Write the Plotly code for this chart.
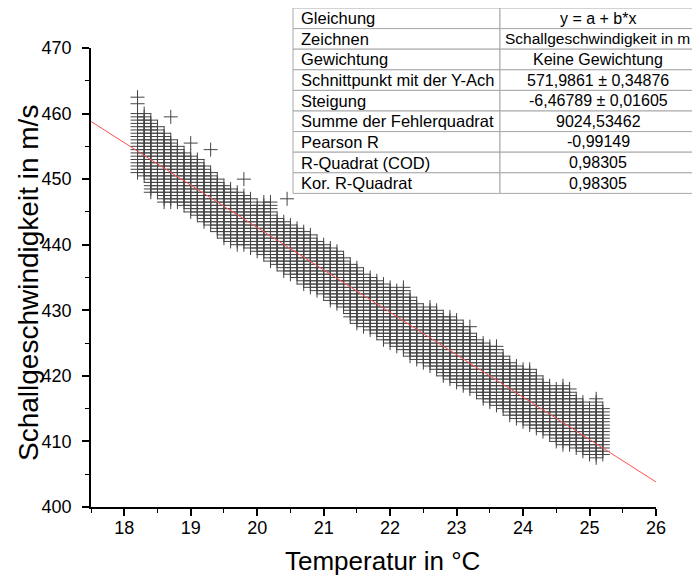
import plotly.graph_objects as go

# ---- data ----
temps = [18.2, 18.3, 18.4, 18.5, 18.6, 18.7, 18.8, 18.9, 19.0, 19.1,
         19.2, 19.3, 19.4, 19.5, 19.6, 19.7, 19.8, 19.9, 20.0, 20.1,
         20.2, 20.3, 20.4, 20.5, 20.6, 20.7, 20.8, 20.9, 21.0, 21.1,
         21.2, 21.3, 21.4, 21.5, 21.6, 21.7, 21.8, 21.9, 22.0, 22.1,
         22.2, 22.3, 22.4, 22.5, 22.6, 22.7, 22.8, 22.9, 23.0, 23.1,
         23.2, 23.3, 23.4, 23.5, 23.6, 23.7, 23.8, 23.9, 24.0, 24.1,
         24.2, 24.3, 24.4, 24.5, 24.6, 24.7, 24.8, 24.9, 25.0, 25.1,
         25.2]
# highest and lowest marker row of each temperature column (m/s)
speed_hi = [460.0, 460.0, 459.0, 458.0, 457.0, 456.0, 455.0, 454.0, 453.5, 453.0,
            452.0, 451.0, 450.0, 449.0, 448.5, 448.0, 447.5, 447.0, 446.0, 446.5,
            446.5, 444.0, 443.5, 443.0, 442.5, 442.0, 441.5, 440.5, 440.0, 439.5,
            439.0, 438.0, 437.0, 436.5, 435.5, 435.0, 434.5, 434.0, 433.5, 433.0,
            433.5, 432.0, 431.0, 430.0, 430.5, 430.0, 429.0, 429.0, 428.5, 427.5,
            426.5, 425.5, 425.0, 424.5, 424.5, 423.0, 422.0, 421.5, 421.0, 421.0,
            420.0, 419.0, 418.5, 418.0, 418.5, 418.0, 416.5, 416.0, 415.0, 416.5,
            415.0]
speed_lo = [451.0, 450.5, 448.0, 448.0, 446.5, 446.5, 446.5, 446.0, 445.0, 444.5,
            443.5, 443.0, 442.0, 441.0, 440.5, 440.0, 440.0, 439.5, 439.0, 438.5,
            437.5, 437.0, 436.0, 435.5, 435.0, 434.0, 433.5, 433.0, 432.5, 431.5,
            431.0, 430.5, 429.0, 428.0, 427.5, 427.0, 426.5, 425.5, 425.0, 424.5,
            424.0, 423.0, 422.5, 422.0, 421.5, 421.0, 420.0, 419.5, 419.0, 418.5,
            418.0, 417.5, 416.5, 416.0, 415.5, 415.0, 414.0, 413.5, 413.0, 412.5,
            412.0, 411.5, 411.0, 410.0, 409.5, 409.5, 409.0, 408.5, 408.0, 407.5,
            408.0]
row_step = 0.5  # vertical spacing of the marker rows seen in the picture
outlier_temps = [18.2, 18.2, 18.7, 19.0, 19.3, 19.8, 20.45, 23.2]
outlier_speeds = [462.5, 461.5, 459.5, 455.5, 454.5, 450.0, 447.0, 427.5]

intercept = 571.9861
slope = -6.46789
fit_x = [17.5, 26.0]

table_labels = ["Gleichung", "Zeichnen", "Gewichtung", "Schnittpunkt mit der Y-Ach",
                "Steigung", "Summe der Fehlerquadrat", "Pearson R",
                "R-Quadrat (COD)", "Kor. R-Quadrat"]
table_values = ["y = a + b*x", "Schallgeschwindigkeit in m", "Keine Gewichtung",
                "571,9861 ± 0,34876", "-6,46789 ± 0,01605", "9024,53462",
                "-0,99149", "0,98305", "0,98305"]

# ---- build scatter from the columns ----
xs, ys = [], []
for t, lo, hi in zip(temps, speed_lo, speed_hi):
    n = int(round((hi - lo) / row_step))
    for k in range(n + 1):
        xs.append(t)
        ys.append(lo + k * row_step)
xs += outlier_temps
ys += outlier_speeds

fit_y = [intercept + slope * x for x in fit_x]

FONT = "Liberation Sans, Arial, sans-serif"
OFF = 8  # page margin of the browser body
W, H = 700 - OFF, 579 - OFF
ML, MR, MT, MB = 91 - OFF, 44, 48 - OFF, 72
PW, PH = W - ML - MR, H - MT - MB


def px(x):  # screen pixel -> paper
    return (x - OFF - ML) / PW


def py(y):
    return (H - MB - (y - OFF)) / PH


fig = go.Figure()
fig.add_trace(go.Scatter(
    x=xs, y=ys, mode="markers",
    marker=dict(symbol="cross-thin", size=10, color="#444444",
                line=dict(width=1, color="#444444")),
    showlegend=False, hoverinfo="skip"))
fig.add_trace(go.Scatter(
    x=fit_x, y=fit_y, mode="lines",
    line=dict(color="rgb(255,80,80)", width=1),
    showlegend=False, hoverinfo="skip"))

axis_common = dict(
    showgrid=False, zeroline=False, showline=True, linecolor="black", linewidth=1.5,
    ticks="outside", ticklen=7, tickwidth=1.5, tickcolor="black",
    tickfont=dict(family=FONT, size=18, color="black"),
)
fig.update_xaxes(range=[17.5, 26], tick0=18, dtick=1, ticklabelstandoff=-3,
                 minor=dict(ticks="outside", ticklen=4, tickwidth=1.2, tickcolor="black", dtick=0.5, tick0=17.5),
                 **axis_common)
fig.update_yaxes(range=[400, 470], tick0=400, dtick=10, ticklabelstandoff=7,
                 minor=dict(ticks="outside", ticklen=4, tickwidth=1.2, tickcolor="black", dtick=5, tick0=400),
                 **axis_common)

shapes = []
annotations = []
# table
t_left, t_div, t_right = 293, 500, 720
t_top, row_h = 8, 20.6
n_rows = len(table_labels)
for i in range(n_rows):
    y0 = t_top + i * row_h
    y1 = y0 + row_h
    for (a, b) in [(t_left, t_div), (t_div, t_right)]:
        shapes.append(dict(type="rect", xref="paper", yref="paper",
                           x0=px(a), x1=px(b), y0=py(y1), y1=py(y0),
                           fillcolor="white", line=dict(color="#a8a8a8", width=1),
                           layer="above"))
    yc = py(y0 + row_h / 2)
    annotations.append(dict(xref="paper", yref="paper", x=px(t_left + 6), y=yc,
                            xanchor="left", yanchor="middle", showarrow=False,
                            text=table_labels[i],
                            font=dict(family=FONT, size=16.5, color="black")))
    long_val = len(table_values[i]) > 22
    annotations.append(dict(xref="paper", yref="paper",
                            x=px(503) if long_val else px(598), y=yc,
                            xanchor="left" if long_val else "center",
                            yanchor="middle", showarrow=False,
                            text=table_values[i],
                            font=dict(family=FONT, size=15.5 if long_val else 16,
                                      color="black")))

annotations.append(dict(xref="paper", yref="paper", x=px(382), y=py(561),
                        xanchor="center", yanchor="middle", showarrow=False,
                        text="Temperatur in °C",
                        font=dict(family=FONT, size=26, color="black")))
annotations.append(dict(xref="paper", yref="paper", x=px(28), y=py(283),
                        xanchor="center", yanchor="middle", showarrow=False,
                        textangle=-90, text="Schallgeschwindigkeit in m/s",
                        font=dict(family=FONT, size=28, color="black")))

fig.update_layout(
    width=W, height=H, autosize=False,
    margin=dict(l=ML, r=MR, t=MT, b=MB),
    paper_bgcolor="white", plot_bgcolor="white",
    shapes=shapes, annotations=annotations,
    font=dict(family=FONT),
)

fig.write_html("out.html")
